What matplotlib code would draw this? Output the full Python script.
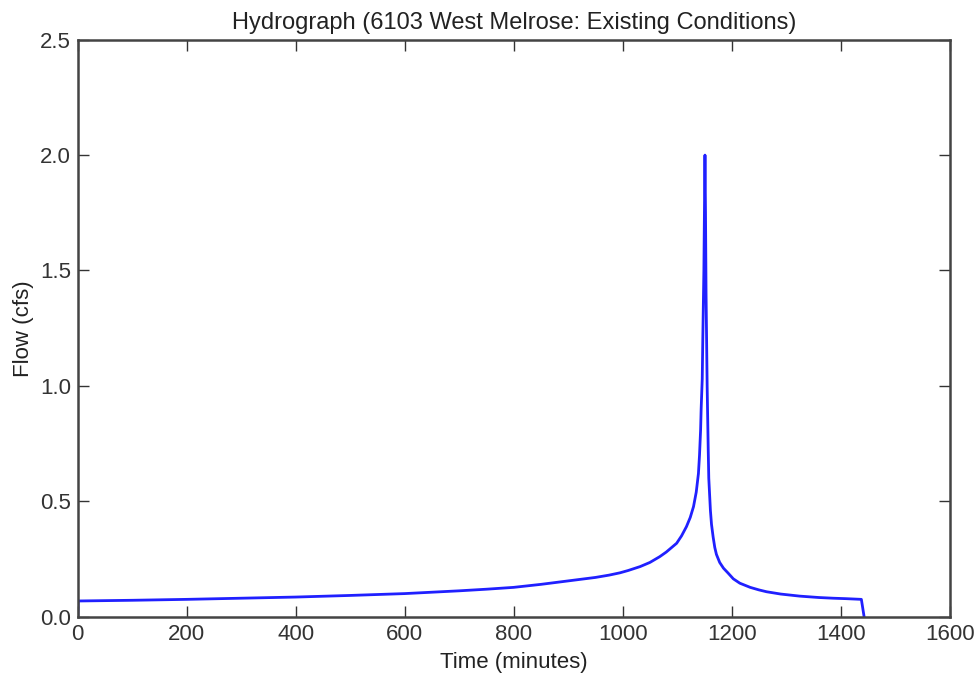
import numpy as np
import matplotlib
matplotlib.use("Agg")
import matplotlib.pyplot as plt

plt.rcParams['font.family'] = ['Liberation Sans', 'DejaVu Sans']

# temps (minutes) et debit (cfs)
temps = [0, 1, 100, 200, 300, 400, 500, 600, 650, 700, 750, 800, 850, 900,
         950, 975, 995, 1010, 1032, 1050, 1068, 1080, 1090, 1099, 1108, 1117,
         1124, 1130, 1135, 1139, 1141, 1143, 1144, 1146, 1147, 1149, 1150, 1151,
         1152, 1153, 1155, 1157, 1158, 1161, 1163, 1166, 1169, 1172, 1178,
         1185, 1193, 1203, 1215, 1234, 1250, 1264, 1290, 1325, 1360, 1386,
         1410, 1438, 1443]
debit = [0.0, 0.068, 0.071, 0.075, 0.080, 0.085, 0.092, 0.100, 0.106, 0.112,
         0.119, 0.127, 0.140, 0.155, 0.170, 0.180, 0.19, 0.20, 0.217, 0.235,
         0.26, 0.28, 0.30, 0.318, 0.35, 0.39, 0.43, 0.477, 0.54, 0.62, 0.70,
         0.81, 0.90, 1.03, 1.2, 1.5, 1.75, 2.0, 1.75, 1.4, 1.0, 0.72, 0.60,
         0.46, 0.40, 0.345, 0.30, 0.27, 0.235, 0.21, 0.19, 0.164, 0.145,
         0.127, 0.116, 0.108, 0.098, 0.089, 0.083, 0.080, 0.078, 0.075, 0.0]

xticks = [0, 200, 400, 600, 800, 1000, 1200, 1400, 1600]
yticks = [0.0, 0.5, 1.0, 1.5, 2.0, 2.5]

fig = plt.figure(figsize=(9.74, 6.73), dpi=100)
ax = fig.add_axes([0.0798, 0.0837, 0.8952, 0.8573])

ax.plot(temps, debit, color='#2020ff', lw=2)

ax.set_xlim(0, 1600)
ax.set_ylim(0, 2.5)
ax.set_xticks(xticks)
ax.set_yticks(yticks)
ax.set_yticklabels(["{:.1f}".format(v) for v in yticks])

ax.tick_params(direction='in', length=8, width=1, top=True, right=True,
               labelsize=16, colors='#333333', pad=5)
for s in ax.spines.values():
    s.set_linewidth(1.8)
    s.set_color('#444444')

ax.set_title("Hydrograph (6103 West Melrose: Existing Conditions)", fontsize=17, pad=8, color='#222222')
ax.set_xlabel("Time (minutes)", fontsize=16, color='#222222', labelpad=5)
ax.set_ylabel("Flow (cfs)", fontsize=16, color='#222222', labelpad=4)

fig.savefig("out.png", dpi=100)
